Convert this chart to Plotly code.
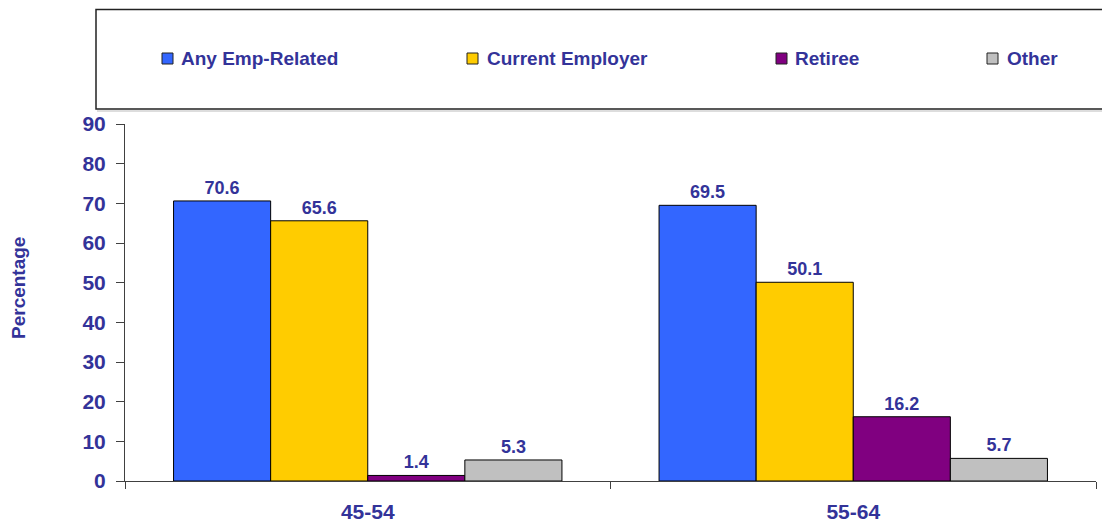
import plotly.graph_objects as go

# ---- data ----
categories = ["45-54", "55-64"]
series_names = ["Any Emp-Related", "Current Employer", "Retiree", "Other"]
any_emp_related = [70.6, 69.5]
current_employer = [65.6, 50.1]
retiree = [1.4, 16.2]
other = [5.3, 5.7]
y_tick_values = [0, 10, 20, 30, 40, 50, 60, 70, 80, 90]
y_axis_title = "Percentage"

series_values = [any_emp_related, current_employer, retiree, other]
colors = ["#3366FF", "#FFCC00", "#800080", "#C0C0C0"]
TEXT = "#333399"
FONT = "Liberation Sans, Arial, sans-serif"

OFF = 8  # page body margin
W, H = 1102, 519
ML, MR, MT, MB = 125 - OFF, 14, 124 - OFF, 46
PW, PH = W - ML - MR, H - MT - MB


def px_x(px):
    return (px - OFF - ML) / PW


def px_y(py):
    return 1 - (py - OFF - MT) / PH


fig = go.Figure()
for name, vals, col in zip(series_names, series_values, colors):
    fig.add_trace(go.Bar(
        x=categories, y=vals, name=name,
        marker=dict(color=col, line=dict(color="#000000", width=1)),
        texttemplate="%{y:.1f}", textposition="outside",
        textfont=dict(family=FONT, size=18, color=TEXT, weight="bold"),
        cliponaxis=False, showlegend=False,
    ))

# legend box (manual, Excel-style)
shapes = [
    dict(type="line", xref="paper", yref="paper", x0=px_x(97), x1=px_x(1130),
         y0=px_y(111), y1=px_y(111), line=dict(color="#BBBBBB", width=1)),
    dict(type="rect", xref="paper", yref="paper", x0=px_x(96), x1=px_x(1130),
         y0=px_y(109), y1=px_y(9.5), line=dict(color="#222222", width=1.5),
         fillcolor="rgba(0,0,0,0)"),
]
annotations = []
legend_sq_x = [162, 467, 776, 987]
legend_txt_x = [179, 485, 793, 1005]
for name, col, sx, tx in zip(series_names, colors, legend_sq_x, legend_txt_x):
    shapes.append(dict(type="rect", xref="paper", yref="paper",
                       x0=px_x(sx), x1=px_x(sx + 11), y0=px_y(64), y1=px_y(53),
                       fillcolor=col, line=dict(color="#222222", width=1)))
    annotations.append(dict(text=name, xref="paper", yref="paper",
                            x=px_x(tx), y=px_y(58), xanchor="left", yanchor="middle",
                            showarrow=False,
                            font=dict(family=FONT, size=19, color=TEXT, weight="bold")))

annotations.append(dict(text=y_axis_title, xref="paper", yref="paper",
                        x=px_x(18), y=px_y(288), textangle=-90,
                        xanchor="center", yanchor="middle", showarrow=False,
                        font=dict(family=FONT, size=19, color=TEXT, weight="bold")))

fig.update_layout(
    width=W, height=H,
    margin=dict(l=ML, r=MR, t=MT, b=MB, autoexpand=False),
    paper_bgcolor="white", plot_bgcolor="white",
    barmode="group", bargap=0.2, bargroupgap=0,
    shapes=shapes, annotations=annotations,
    showlegend=False,
    xaxis=dict(
        type="category", showline=True, linecolor="#404040", linewidth=1,
        ticks="outside", tickson="boundaries", ticklen=7, tickcolor="#404040",
        tickfont=dict(family=FONT, size=21, color=TEXT, weight="bold"),
        ticklabelstandoff=12, showgrid=False, automargin=False,
    ),
    yaxis=dict(
        range=[0, 90], tickvals=y_tick_values, showline=True,
        linecolor="#404040", linewidth=1, ticks="outside", ticklen=8,
        tickcolor="#404040", showgrid=False, zeroline=False,
        tickfont=dict(family=FONT, size=21, color=TEXT, weight="bold"),
        ticklabelstandoff=6, automargin=False,
    ),
)

fig.write_html("out.html")
